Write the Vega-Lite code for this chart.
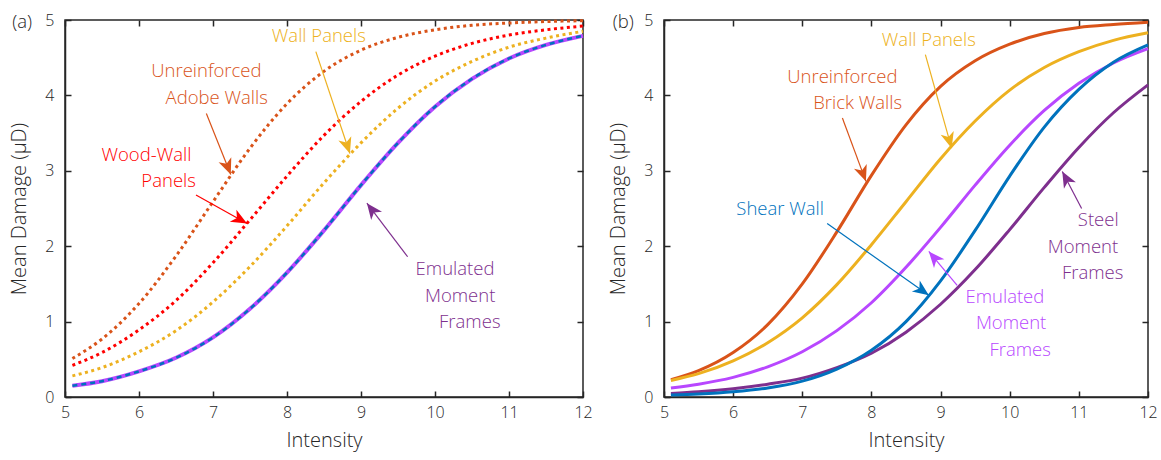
{
  "$schema": "https://vega.github.io/schema/vega-lite/v6.json",
  "padding": {"left": 9, "top": 11, "right": 6, "bottom": 2},
  "background": "white",
  "datasets": {
    "a_curves": [
      {"s":"Adobe","x":5.1,"y":0.51},{"s":"Adobe","x":5.5,"y":0.77},{"s":"Adobe","x":6,"y":1.24},{"s":"Adobe","x":6.5,"y":1.87},{"s":"Adobe","x":7,"y":2.59},{"s":"Adobe","x":7.5,"y":3.30},{"s":"Adobe","x":8,"y":3.89},{"s":"Adobe","x":8.5,"y":4.32},{"s":"Adobe","x":9,"y":4.60},{"s":"Adobe","x":9.5,"y":4.77},{"s":"Adobe","x":10,"y":4.87},{"s":"Adobe","x":10.5,"y":4.93},{"s":"Adobe","x":11,"y":4.96},{"s":"Adobe","x":11.5,"y":4.98},{"s":"Adobe","x":12,"y":4.99},
      {"s":"Wood","x":5.1,"y":0.42},{"s":"Wood","x":5.5,"y":0.59},{"s":"Wood","x":6,"y":0.89},{"s":"Wood","x":6.5,"y":1.28},{"s":"Wood","x":7,"y":1.78},{"s":"Wood","x":7.5,"y":2.35},{"s":"Wood","x":8,"y":2.93},{"s":"Wood","x":8.5,"y":3.47},{"s":"Wood","x":9,"y":3.92},{"s":"Wood","x":9.5,"y":4.27},{"s":"Wood","x":10,"y":4.52},{"s":"Wood","x":10.5,"y":4.69},{"s":"Wood","x":11,"y":4.80},{"s":"Wood","x":11.5,"y":4.87},{"s":"Wood","x":12,"y":4.92},
      {"s":"WallA","x":5.1,"y":0.28},{"s":"WallA","x":5.5,"y":0.39},{"s":"WallA","x":6,"y":0.60},{"s":"WallA","x":6.5,"y":0.88},{"s":"WallA","x":7,"y":1.26},{"s":"WallA","x":7.5,"y":1.73},{"s":"WallA","x":8,"y":2.27},{"s":"WallA","x":8.5,"y":2.84},{"s":"WallA","x":9,"y":3.37},{"s":"WallA","x":9.5,"y":3.83},{"s":"WallA","x":10,"y":4.19},{"s":"WallA","x":10.5,"y":4.45},{"s":"WallA","x":11,"y":4.64},{"s":"WallA","x":11.5,"y":4.76},{"s":"WallA","x":12,"y":4.85},
      {"s":"EmuA","x":5.1,"y":0.15},{"s":"EmuA","x":5.5,"y":0.21},{"s":"EmuA","x":6,"y":0.34},{"s":"EmuA","x":6.5,"y":0.52},{"s":"EmuA","x":7,"y":0.79},{"s":"EmuA","x":7.5,"y":1.17},{"s":"EmuA","x":8,"y":1.65},{"s":"EmuA","x":8.5,"y":2.21},{"s":"EmuA","x":9,"y":2.81},{"s":"EmuA","x":9.5,"y":3.37},{"s":"EmuA","x":10,"y":3.85},{"s":"EmuA","x":10.5,"y":4.22},{"s":"EmuA","x":11,"y":4.49},{"s":"EmuA","x":11.5,"y":4.67},{"s":"EmuA","x":12,"y":4.79}
    ],
    "b_curves": [
      {"s":"Brick","x":5.1,"y":0.23},{"s":"Brick","x":5.5,"y":0.35},{"s":"Brick","x":6,"y":0.59},{"s":"Brick","x":6.5,"y":0.96},{"s":"Brick","x":7,"y":1.50},{"s":"Brick","x":7.5,"y":2.19},{"s":"Brick","x":8,"y":2.94},{"s":"Brick","x":8.5,"y":3.61},{"s":"Brick","x":9,"y":4.12},{"s":"Brick","x":9.5,"y":4.46},{"s":"Brick","x":10,"y":4.68},{"s":"Brick","x":10.5,"y":4.82},{"s":"Brick","x":11,"y":4.90},{"s":"Brick","x":11.5,"y":4.94},{"s":"Brick","x":12,"y":4.97},
      {"s":"WallB","x":5.1,"y":0.22},{"s":"WallB","x":5.5,"y":0.31},{"s":"WallB","x":6,"y":0.48},{"s":"WallB","x":6.5,"y":0.72},{"s":"WallB","x":7,"y":1.05},{"s":"WallB","x":7.5,"y":1.49},{"s":"WallB","x":8,"y":2.02},{"s":"WallB","x":8.5,"y":2.59},{"s":"WallB","x":9,"y":3.16},{"s":"WallB","x":9.5,"y":3.66},{"s":"WallB","x":10,"y":4.07},{"s":"WallB","x":10.5,"y":4.37},{"s":"WallB","x":11,"y":4.58},{"s":"WallB","x":11.5,"y":4.73},{"s":"WallB","x":12,"y":4.83},
      {"s":"EmuB","x":5.1,"y":0.12},{"s":"EmuB","x":5.5,"y":0.17},{"s":"EmuB","x":6,"y":0.26},{"s":"EmuB","x":6.5,"y":0.40},{"s":"EmuB","x":7,"y":0.60},{"s":"EmuB","x":7.5,"y":0.88},{"s":"EmuB","x":8,"y":1.25},{"s":"EmuB","x":8.5,"y":1.72},{"s":"EmuB","x":9,"y":2.25},{"s":"EmuB","x":9.5,"y":2.81},{"s":"EmuB","x":10,"y":3.34},{"s":"EmuB","x":10.5,"y":3.80},{"s":"EmuB","x":11,"y":4.16},{"s":"EmuB","x":11.5,"y":4.43},{"s":"EmuB","x":12,"y":4.62},
      {"s":"Steel","x":5.1,"y":0.048},{"s":"Steel","x":5.5,"y":0.07},{"s":"Steel","x":6,"y":0.11},{"s":"Steel","x":6.5,"y":0.17},{"s":"Steel","x":7,"y":0.25},{"s":"Steel","x":7.5,"y":0.39},{"s":"Steel","x":8,"y":0.58},{"s":"Steel","x":8.5,"y":0.86},{"s":"Steel","x":9,"y":1.23},{"s":"Steel","x":9.5,"y":1.69},{"s":"Steel","x":10,"y":2.22},{"s":"Steel","x":10.5,"y":2.78},{"s":"Steel","x":11,"y":3.31},{"s":"Steel","x":11.5,"y":3.77},{"s":"Steel","x":12,"y":4.14},
      {"s":"Shear","x":5.1,"y":0.025},{"s":"Shear","x":5.5,"y":0.04},{"s":"Shear","x":6,"y":0.07},{"s":"Shear","x":6.5,"y":0.12},{"s":"Shear","x":7,"y":0.21},{"s":"Shear","x":7.5,"y":0.37},{"s":"Shear","x":8,"y":0.62},{"s":"Shear","x":8.5,"y":1.00},{"s":"Shear","x":9,"y":1.54},{"s":"Shear","x":9.5,"y":2.21},{"s":"Shear","x":10,"y":2.93},{"s":"Shear","x":10.5,"y":3.58},{"s":"Shear","x":11,"y":4.08},{"s":"Shear","x":11.5,"y":4.44},{"s":"Shear","x":12,"y":4.67}
    ],
    "a_text": [
      {"s":"Adobe","t":"Unreinforced","x":6.91,"y":4.32},
      {"s":"Adobe","t":"Adobe Walls","x":7.05,"y":3.96},
      {"s":"Wood","t":"Wood-Wall","x":6.10,"y":3.21},
      {"s":"Wood","t":"Panels","x":6.40,"y":2.87},
      {"s":"WallA","t":"Wall Panels","x":8.43,"y":4.79},
      {"s":"EmuL","t":"Emulated","x":10.27,"y":1.70},
      {"s":"EmuL","t":"Moment","x":10.34,"y":1.34},
      {"s":"EmuL","t":"Frames","x":10.47,"y":0.99},
      {"s":"Lab","t":"(a)","x":4.42,"y":4.97}
    ],
    "a_arrows": [
      {"s":"Adobe","x":6.91,"y":3.76,"x2":7.24,"y2":2.95},
      {"s":"Wood","x":6.77,"y":2.68,"x2":7.46,"y2":2.30},
      {"s":"WallA","x":8.39,"y":4.58,"x2":8.85,"y2":3.23},
      {"s":"EmuL","x":9.63,"y":1.86,"x2":9.08,"y2":2.57}
    ],
    "b_text": [
      {"s":"Brick","t":"Unreinforced","x":7.58,"y":4.24},
      {"s":"Brick","t":"Brick Walls","x":7.80,"y":3.90},
      {"s":"Shear","t":"Shear Wall","x":6.68,"y":2.50},
      {"s":"WallB","t":"Wall Panels","x":8.83,"y":4.73},
      {"s":"EmuB","t":"Emulated","x":9.93,"y":1.33},
      {"s":"EmuB","t":"Moment","x":10.02,"y":0.98},
      {"s":"EmuB","t":"Frames","x":10.15,"y":0.62},
      {"s":"Steel","t":"Steel","x":11.28,"y":2.35},
      {"s":"Steel","t":"Moment","x":11.06,"y":1.99},
      {"s":"Steel","t":"Frames","x":11.20,"y":1.64},
      {"s":"Lab","t":"(b)","x":4.41,"y":4.97}
    ],
    "b_arrows": [
      {"s":"Brick","x":7.58,"y":3.70,"x2":7.92,"y2":2.86},
      {"s":"WallB","x":8.78,"y":4.54,"x2":9.16,"y2":3.30},
      {"s":"Shear","x":7.36,"y":2.30,"x2":8.83,"y2":1.35},
      {"s":"EmuB","x":9.24,"y":1.48,"x2":8.83,"y2":1.93},
      {"s":"Steel","x":11.04,"y":2.50,"x2":10.76,"y2":2.99}
    ]
  },
  "hconcat": [
    {
      "width": 518,
      "height": 377,
      "resolve": {"axis": {"x": "independent", "y": "independent"}},
      "layer": [
        {
          "data": {"name": "a_curves"},
          "transform": [{"filter": "datum.s != 'EmuA'"}],
          "mark": {"type": "line", "strokeWidth": 3, "strokeDash": [3, 3.5], "interpolate": "monotone"},
          "encoding": {
            "x": {"field": "x", "type": "quantitative", "scale": {"domain": [5, 12]}, "axis": {"title": "Intensity", "values": [5,6,7,8,9,10,11,12], "labelFlush": false}},
            "y": {"field": "y", "type": "quantitative", "scale": {"domain": [0, 5]}, "axis": {"title": "Mean Damage (\u03bcD)", "values": [0,1,2,3,4,5]}},
            "color": {"field": "s", "type": "nominal", "legend": null, "scale": {"domain": ["Adobe","Wood","WallA","EmuA","EmuL","Brick","WallB","EmuB","Steel","Shear","Lab"], "range": ["#D95319","#FF0000","#EDB120","#B847FF","#7E2F8E","#D95319","#EDB120","#B847FF","#7E2F8E","#0072BD","#262626"]}}
          }
        },
        {
          "data": {"name": "a_curves"},
          "transform": [{"filter": "datum.s == 'EmuA'"}],
          "mark": {"type": "line", "strokeWidth": 4, "color": "#B847FF", "interpolate": "monotone"},
          "encoding": {
            "x": {"field": "x", "type": "quantitative", "scale": {"domain": [5, 12]}, "axis": null},
            "y": {"field": "y", "type": "quantitative", "scale": {"domain": [0, 5]}, "axis": null}
          }
        },
        {
          "data": {"name": "a_curves"},
          "transform": [{"filter": "datum.s == 'EmuA'"}],
          "mark": {"type": "line", "strokeWidth": 2.5, "color": "#0072BD", "strokeDash": [5, 4], "interpolate": "monotone"},
          "encoding": {
            "x": {"field": "x", "type": "quantitative", "axis": null},
            "y": {"field": "y", "type": "quantitative", "axis": null}
          }
        },
        {
          "data": {"name": "a_text"},
          "mark": {"type": "text", "align": "center", "baseline": "middle", "clip": false},
          "encoding": {
            "x": {"field": "x", "type": "quantitative", "axis": null},
            "y": {"field": "y", "type": "quantitative", "axis": null},
            "text": {"field": "t"},
            "color": {"field": "s", "type": "nominal", "legend": null}
          }
        },
        {
          "data": {"name": "a_arrows"},
          "mark": {"type": "rule", "strokeWidth": 1.2},
          "encoding": {
            "x": {"field": "x", "type": "quantitative", "axis": null},
            "y": {"field": "y", "type": "quantitative", "axis": null},
            "x2": {"field": "x2"},
            "y2": {"field": "y2"},
            "color": {"field": "s", "type": "nominal", "legend": null}
          }
        },
        {
          "data": {"name": "a_arrows"},
          "transform": [{"filter": "datum.s == 'Adobe'"}],
          "mark": {"type": "point", "shape": "M0,0 L0.85,2 L0,1.45 L-0.85,2 Z", "filled": true, "opacity": 1, "size": 256, "angle": 158.7, "strokeWidth": 0},
          "encoding": {"x": {"field": "x2", "type": "quantitative", "axis": null}, "y": {"field": "y2", "type": "quantitative", "axis": null}, "color": {"field": "s", "type": "nominal", "legend": null}}
        },
        {
          "data": {"name": "a_arrows"},
          "transform": [{"filter": "datum.s == 'Wood'"}],
          "mark": {"type": "point", "shape": "M0,0 L0.85,2 L0,1.45 L-0.85,2 Z", "filled": true, "opacity": 1, "size": 256, "angle": 119.2, "strokeWidth": 0},
          "encoding": {"x": {"field": "x2", "type": "quantitative", "axis": null}, "y": {"field": "y2", "type": "quantitative", "axis": null}, "color": {"field": "s", "type": "nominal", "legend": null}}
        },
        {
          "data": {"name": "a_arrows"},
          "transform": [{"filter": "datum.s == 'WallA'"}],
          "mark": {"type": "point", "shape": "M0,0 L0.85,2 L0,1.45 L-0.85,2 Z", "filled": true, "opacity": 1, "size": 256, "angle": 161.5, "strokeWidth": 0},
          "encoding": {"x": {"field": "x2", "type": "quantitative", "axis": null}, "y": {"field": "y2", "type": "quantitative", "axis": null}, "color": {"field": "s", "type": "nominal", "legend": null}}
        },
        {
          "data": {"name": "a_arrows"},
          "transform": [{"filter": "datum.s == 'EmuL'"}],
          "mark": {"type": "point", "shape": "M0,0 L0.85,2 L0,1.45 L-0.85,2 Z", "filled": true, "opacity": 1, "size": 256, "angle": -37.3, "strokeWidth": 0},
          "encoding": {"x": {"field": "x2", "type": "quantitative", "axis": null}, "y": {"field": "y2", "type": "quantitative", "axis": null}, "color": {"field": "s", "type": "nominal", "legend": null}}
        },
        {
          "data": {"name": "a_curves"},
          "mark": {"type": "point", "opacity": 0},
          "encoding": {
            "x": {"field": "x", "type": "quantitative", "axis": {"orient": "top", "labels": false, "title": null, "domain": false, "values": [5,6,7,8,9,10,11,12]}},
            "y": {"field": "y", "type": "quantitative", "axis": {"orient": "right", "labels": false, "title": null, "domain": false, "values": [0,1,2,3,4,5]}}
          }
        }
      ]
    },
    {
      "width": 484,
      "height": 377,
      "resolve": {"axis": {"x": "independent", "y": "independent"}},
      "layer": [
        {
          "data": {"name": "b_curves"},
          "mark": {"type": "line", "strokeWidth": 3, "interpolate": "monotone"},
          "encoding": {
            "x": {"field": "x", "type": "quantitative", "scale": {"domain": [5, 12]}, "axis": {"title": "Intensity", "values": [5,6,7,8,9,10,11,12], "labelFlush": false}},
            "y": {"field": "y", "type": "quantitative", "scale": {"domain": [0, 5]}, "axis": {"title": "Mean Damage (\u03bcD)", "values": [0,1,2,3,4,5]}},
            "color": {"field": "s", "type": "nominal", "legend": null, "scale": {"domain": ["Adobe","Wood","WallA","EmuA","EmuL","Brick","WallB","EmuB","Steel","Shear","Lab"], "range": ["#D95319","#FF0000","#EDB120","#B847FF","#7E2F8E","#D95319","#EDB120","#B847FF","#7E2F8E","#0072BD","#262626"]}}
          }
        },
        {
          "data": {"name": "b_text"},
          "mark": {"type": "text", "align": "center", "baseline": "middle", "clip": false},
          "encoding": {
            "x": {"field": "x", "type": "quantitative", "axis": null},
            "y": {"field": "y", "type": "quantitative", "axis": null},
            "text": {"field": "t"},
            "color": {"field": "s", "type": "nominal", "legend": null}
          }
        },
        {
          "data": {"name": "b_arrows"},
          "mark": {"type": "rule", "strokeWidth": 1.2},
          "encoding": {
            "x": {"field": "x", "type": "quantitative", "axis": null},
            "y": {"field": "y", "type": "quantitative", "axis": null},
            "x2": {"field": "x2"},
            "y2": {"field": "y2"},
            "color": {"field": "s", "type": "nominal", "legend": null}
          }
        },
        {
          "data": {"name": "b_arrows"},
          "transform": [{"filter": "datum.s == 'Brick'"}],
          "mark": {"type": "point", "shape": "M0,0 L0.85,2 L0,1.45 L-0.85,2 Z", "filled": true, "opacity": 1, "size": 256, "angle": 159.7, "strokeWidth": 0},
          "encoding": {"x": {"field": "x2", "type": "quantitative", "axis": null}, "y": {"field": "y2", "type": "quantitative", "axis": null}, "color": {"field": "s", "type": "nominal", "legend": null}}
        },
        {
          "data": {"name": "b_arrows"},
          "transform": [{"filter": "datum.s == 'WallB'"}],
          "mark": {"type": "point", "shape": "M0,0 L0.85,2 L0,1.45 L-0.85,2 Z", "filled": true, "opacity": 1, "size": 256, "angle": 164, "strokeWidth": 0},
          "encoding": {"x": {"field": "x2", "type": "quantitative", "axis": null}, "y": {"field": "y2", "type": "quantitative", "axis": null}, "color": {"field": "s", "type": "nominal", "legend": null}}
        },
        {
          "data": {"name": "b_arrows"},
          "transform": [{"filter": "datum.s == 'Shear'"}],
          "mark": {"type": "point", "shape": "M0,0 L0.85,2 L0,1.45 L-0.85,2 Z", "filled": true, "opacity": 1, "size": 256, "angle": 125.5, "strokeWidth": 0},
          "encoding": {"x": {"field": "x2", "type": "quantitative", "axis": null}, "y": {"field": "y2", "type": "quantitative", "axis": null}, "color": {"field": "s", "type": "nominal", "legend": null}}
        },
        {
          "data": {"name": "b_arrows"},
          "transform": [{"filter": "datum.s == 'EmuB'"}],
          "mark": {"type": "point", "shape": "M0,0 L0.85,2 L0,1.45 L-0.85,2 Z", "filled": true, "opacity": 1, "size": 256, "angle": -40.4, "strokeWidth": 0},
          "encoding": {"x": {"field": "x2", "type": "quantitative", "axis": null}, "y": {"field": "y2", "type": "quantitative", "axis": null}, "color": {"field": "s", "type": "nominal", "legend": null}}
        },
        {
          "data": {"name": "b_arrows"},
          "transform": [{"filter": "datum.s == 'Steel'"}],
          "mark": {"type": "point", "shape": "M0,0 L0.85,2 L0,1.45 L-0.85,2 Z", "filled": true, "opacity": 1, "size": 256, "angle": -28.6, "strokeWidth": 0},
          "encoding": {"x": {"field": "x2", "type": "quantitative", "axis": null}, "y": {"field": "y2", "type": "quantitative", "axis": null}, "color": {"field": "s", "type": "nominal", "legend": null}}
        },
        {
          "data": {"name": "b_curves"},
          "mark": {"type": "point", "opacity": 0},
          "encoding": {
            "x": {"field": "x", "type": "quantitative", "axis": {"orient": "top", "labels": false, "title": null, "domain": false, "values": [5,6,7,8,9,10,11,12]}},
            "y": {"field": "y", "type": "quantitative", "axis": {"orient": "right", "labels": false, "title": null, "domain": false, "values": [0,1,2,3,4,5]}}
          }
        }
      ]
    }
  ],
  "spacing": 81,
  "bounds": "flush",
  "config": {
    "view": {"stroke": "#262626", "strokeWidth": 1.5},
    "axis": {
      "grid": false,
      "domainColor": "#262626",
      "domainWidth": 1.5,
      "tickColor": "#262626",
      "tickWidth": 1.5,
      "tickSize": -6,
      "labelFont": "Open Sans",
      "labelFontSize": 16,
      "labelFontWeight": 300,
      "labelColor": "#262626",
      "titleFont": "Open Sans",
      "titleFontSize": 20,
      "titleFontWeight": 300,
      "titleColor": "#262626"
    },
    "axisX": {"labelPadding": 13, "titlePadding": 10},
    "axisY": {"labelPadding": 17, "titlePadding": 15},
    "text": {"font": "Open Sans", "fontSize": 18.5, "fontWeight": 300}
  }
}
